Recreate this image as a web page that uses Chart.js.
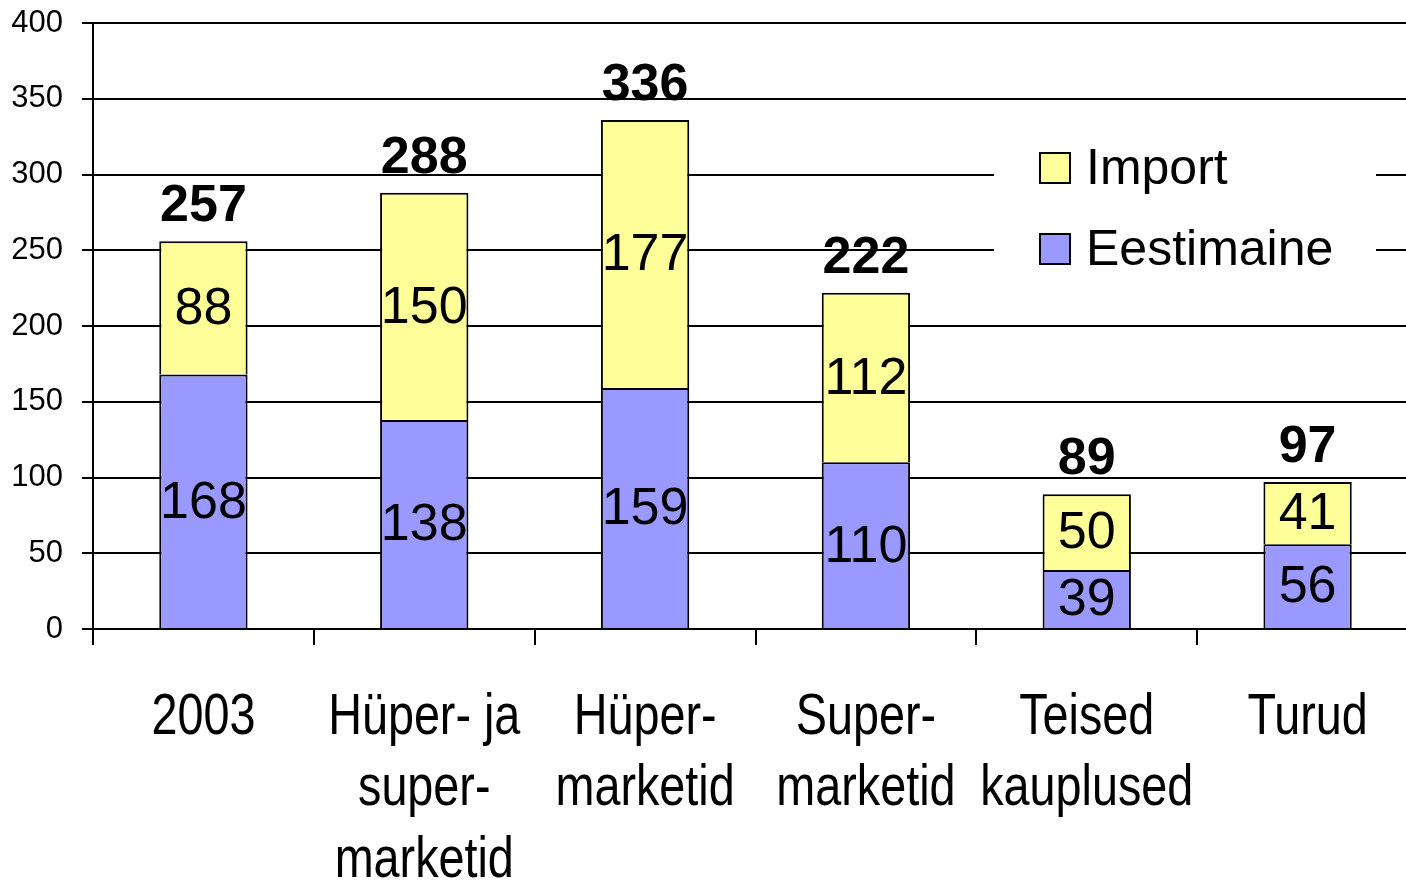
<!DOCTYPE html>
<html lang="et">
<head>
    <meta charset="UTF-8">
    <title>Eestimaine ja import</title>
    <script src="https://cdn.jsdelivr.net/npm/chart.js"></script>
    <style>
        html, body {
            margin: 0;
            padding: 0;
            background: #fff;
            overflow: hidden;
        }
        .chart-box {
            width: 1418px;
            height: 880px;
        }
    </style>
</head>
<body>
    <div class="chart-box">
        <canvas id="barChart"></canvas>
    </div>

    <script>
        const categories = [
            ['2003'],
            ['Hüper- ja', 'super-', 'marketid'],
            ['Hüper-', 'marketid'],
            ['Super-', 'marketid'],
            ['Teised', 'kauplused'],
            ['Turud']
        ];
        const eestimaine = [168, 138, 159, 110, 39, 56];
        const importValues = [88, 150, 177, 112, 50, 41];
        const totals = [257, 288, 336, 222, 89, 97];
        const yTicks = [0, 50, 100, 150, 200, 250, 300, 350, 400];

        const plainFont = "'Liberation Sans', Arial, sans-serif";

        // value labels inside segments + totals above bars
        const valueLabels = {
            id: 'valueLabels',
            afterDatasetsDraw(chart) {
                const ctx = chart.ctx;
                ctx.save();
                ctx.fillStyle = '#000';
                ctx.textAlign = 'center';
                ctx.textBaseline = 'middle';
                ctx.font = '52px ' + plainFont;
                chart.data.datasets.forEach((ds, i) => {
                    chart.getDatasetMeta(i).data.forEach((bar, j) => {
                        ctx.fillText(String(ds.data[j]), bar.x, (bar.y + bar.base) / 2 + 2);
                    });
                });
                const top = chart.getDatasetMeta(chart.data.datasets.length - 1).data;
                ctx.font = 'bold 52px ' + plainFont;
                ctx.textBaseline = 'alphabetic';
                top.forEach((bar, j) => {
                    ctx.fillText(String(totals[j]), bar.x, bar.y - 20);
                });
                ctx.restore();
            }
        };

        // category labels, drawn narrow (Arial Narrow look) at the scale's tick positions
        const narrowTicks = {
            id: 'narrowTicks',
            afterDraw(chart) {
                const xs = chart.scales.x;
                const ctx = chart.ctx;
                ctx.save();
                ctx.fillStyle = '#000';
                ctx.textAlign = 'center';
                ctx.textBaseline = 'middle';
                ctx.font = '57px ' + plainFont;
                chart.data.labels.forEach((lines, i) => {
                    const x = xs.getPixelForTick(i);
                    lines.forEach((line, k) => {
                        ctx.save();
                        ctx.translate(x, xs.top + 89 + k * 71.5);
                        ctx.scale(0.82, 1);
                        ctx.fillText(line, 0, 0);
                        ctx.restore();
                    });
                });
                ctx.restore();
            }
        };

        // legend sitting inside the plot, top right
        const boxLegend = {
            id: 'boxLegend',
            afterDraw(chart) {
                const ctx = chart.ctx;
                ctx.save();
                ctx.fillStyle = '#fff';
                ctx.fillRect(994, 125, 382, 170);
                const items = chart.data.datasets.slice().reverse();
                ctx.font = '50px ' + plainFont;
                ctx.textBaseline = 'middle';
                ctx.textAlign = 'left';
                items.forEach((ds, k) => {
                    const cy = 168 + k * 81;
                    ctx.fillStyle = ds.backgroundColor;
                    ctx.fillRect(1040, cy - 15, 30, 30);
                    ctx.strokeStyle = '#000';
                    ctx.lineWidth = 2;
                    ctx.strokeRect(1040, cy - 15, 30, 30);
                    ctx.fillStyle = '#000';
                    ctx.fillText(ds.label, 1086, cy + 2);
                });
                ctx.restore();
            }
        };

        new Chart(document.getElementById('barChart').getContext('2d'), {
            type: 'bar',
            data: {
                labels: categories,
                datasets: [{
                    label: 'Eestimaine',
                    data: eestimaine,
                    backgroundColor: '#9999FF',
                    borderColor: '#000',
                    borderWidth: 2
                }, {
                    label: 'Import',
                    data: importValues,
                    backgroundColor: '#FFFF99',
                    borderColor: '#000',
                    borderWidth: 2
                }]
            },
            options: {
                responsive: true,
                maintainAspectRatio: false,
                animation: false,
                layout: {
                    padding: { top: 23, right: 0, bottom: 0, left: 0 }
                },
                datasets: {
                    bar: { barPercentage: 0.4, categoryPercentage: 1 }
                },
                plugins: {
                    legend: { display: false },
                    tooltip: { enabled: false }
                },
                scales: {
                    x: {
                        stacked: true,
                        afterFit(scale) { scale.height = 251; },
                        grid: {
                            drawOnChartArea: false,
                            color: '#000',
                            lineWidth: 2,
                            tickLength: 16
                        },
                        border: { color: '#000', width: 2 },
                        ticks: { display: false }
                    },
                    y: {
                        stacked: true,
                        min: 0,
                        max: 400,
                        afterFit(scale) {
                            scale.width = 93;
                            scale.paddingTop = 0;
                            scale.paddingBottom = 0;
                        },
                        afterBuildTicks(scale) {
                            scale.ticks = yTicks.map(v => ({ value: v }));
                        },
                        grid: {
                            color: '#000',
                            lineWidth: 2,
                            tickLength: 11
                        },
                        border: { color: '#000', width: 2 },
                        ticks: {
                            color: '#000',
                            padding: 19,
                            font: { family: plainFont, size: 31 }
                        }
                    }
                }
            },
            plugins: [valueLabels, narrowTicks, boxLegend]
        });
    </script>
</body>
</html>
